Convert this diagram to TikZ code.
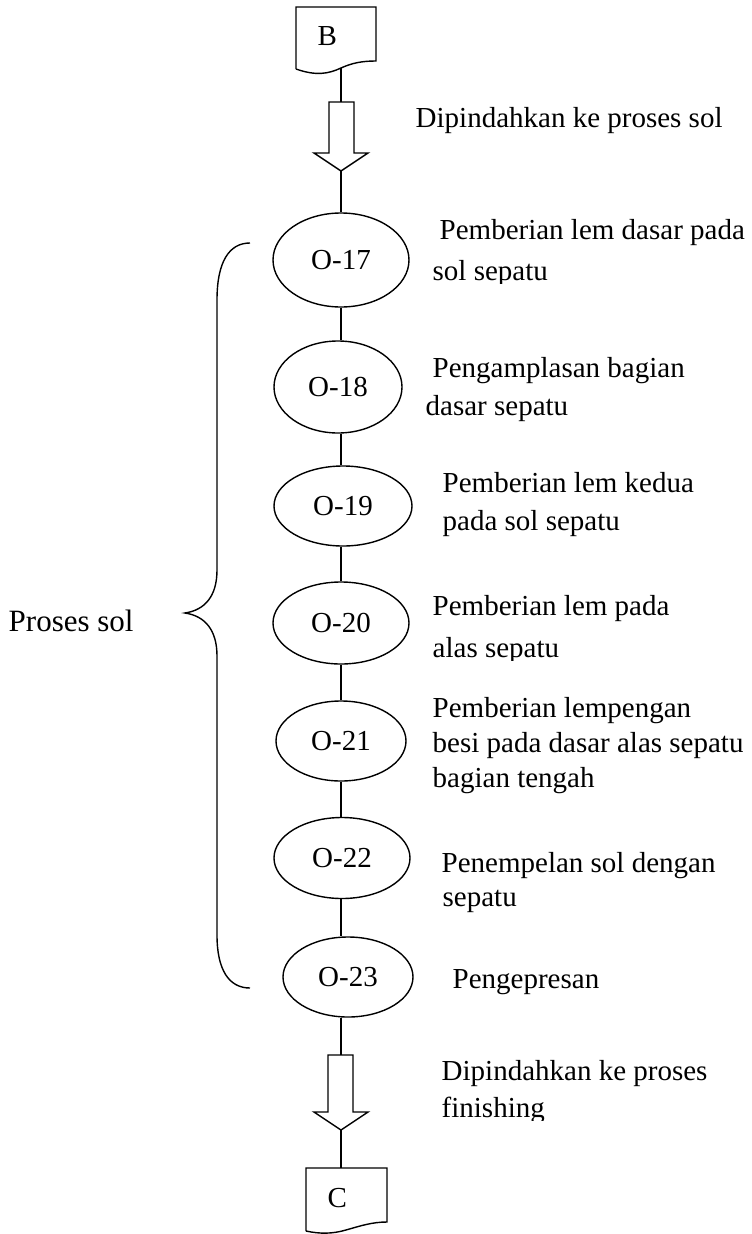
\documentclass[tikz,border=0pt]{standalone}
\usepackage{fontspec}
\setmainfont{Liberation Serif}
\usetikzlibrary{shapes.geometric}
\begin{document}
\begin{tikzpicture}[x=1pt,y=-1pt, line width=1.4pt,
  op/.style={draw, ellipse, inner sep=0pt, font=\fontsize{29}{35}\selectfont},
  lbl/.style={anchor=base west, inner sep=0pt, font=\fontsize{29}{35}\selectfont},
  doctext/.style={anchor=base west, inner sep=0pt, font=\fontsize{29}{35}\selectfont},
  blockarrow/.style={draw, line join=miter, fill=white}]
\useasboundingbox (0,0) rectangle (752,1234);

% start document B
\draw (296,69) -- (296,7) -- (376,7) -- (376,61)
  .. controls (362,61) and (352,63) .. (341,68)
  .. controls (328,74) and (316,76) .. (296,69);
\coordinate (Bout) at (341,68);
\node[doctext] (B) at (317,45) {B};

% block arrow into the sole process
\coordinate (A1top) at (341,102);
\coordinate (A1tip) at (341,171);
\draw[blockarrow] (329,102) -- (354,102) -- (354,153) -- (368,153) -- (341,171)
  -- (314,153) -- (329,153) -- cycle;
\draw (Bout) -- (A1top);

% operations
\node[op, minimum width=136pt, minimum height=94pt] (O17) at (341,260) {O-17};
\node[op, minimum width=128pt, minimum height=92pt] (O18) at (338,387) {O-18};
\node[op, minimum width=138pt, minimum height=80pt] (O19) at (343,506) {O-19};
\node[op, minimum width=136pt, minimum height=82pt] (O20) at (341,623) {O-20};
\node[op, minimum width=130pt, minimum height=80pt] (O21) at (341,741) {O-21};
\node[op, minimum width=136pt, minimum height=81pt] (O22) at (342,858) {O-22};
\node[op, minimum width=130pt, minimum height=80pt] (O23) at (348,977) {O-23};

\draw (A1tip) -- (A1tip |- O17.north);
\draw (O17.south) -- (O17.south |- O18.north);
\draw (O17.south |- O18.south) -- (O17.south |- O19.north);
\draw (O17.south |- O19.south) -- (O17.south |- O20.north);
\draw (O20.south) -- (O21.north);
\draw (O21.south) -- (O21.south |- O22.north);
\draw (O21.south |- O22.south) -- (O21.south |- O23.north);

% block arrow to finishing
\coordinate (A2top) at (341,1055);
\coordinate (A2tip) at (341,1130);
\draw (O21.south |- O23.south) -- (A2top);
\draw[blockarrow] (328,1055) -- (353,1055) -- (353,1112) -- (368,1112) -- (341,1130)
  -- (314,1112) -- (328,1112) -- cycle;

% end document C
\draw (306,1231) -- (306,1168) -- (387,1168) -- (387,1222)
  .. controls (372,1222) and (360,1226) .. (346,1230)
  .. controls (332,1234) and (320,1234) .. (306,1231);
\coordinate (Cin) at (341,1168);
\draw (A2tip) -- (Cin);
\node[doctext] (C) at (327,1207) {C};

% brace grouping the sole operations
\draw (250,243) .. controls (229,243) and (217,262) .. (217,300)
  -- (217,570) .. controls (217,596) and (205,610) .. (185,613)
  .. controls (205,616) and (217,630) .. (217,656)
  -- (217,935) .. controls (217,970) and (229,988) .. (250,988);
\node[anchor=base west, inner sep=0pt, font=\fontsize{31}{37}\selectfont] (group) at (8,631) {Proses sol};

% descriptions (some text frames cut off the descenders of their last line)
\node[lbl] (d1)   at (415,127) {Dipindahkan ke proses sol};
\node[lbl] (t17a) at (439,239) {Pemberian lem dasar pada};
\begin{scope}
  \clip (420,250) rectangle (752,283);
  \node[lbl] (t17b) at (432,280) {sol sepatu};
\end{scope}
\node[lbl] (t18a) at (432,377) {Pengamplasan bagian};
\node[lbl] (t18b) at (425,415) {dasar sepatu};
\node[lbl] (t19a) at (442,492) {Pemberian lem kedua};
\node[lbl] (t19b) at (442,530) {pada sol sepatu};
\node[lbl] (t20a) at (432,615) {Pemberian lem pada};
\begin{scope}
  \clip (420,630) rectangle (752,660);
  \node[lbl] (t20b) at (432,657) {alas sepatu};
\end{scope}
\node[lbl] (t21a) at (432,717) {Pemberian lempengan};
\node[lbl] (t21b) at (432,752) {besi pada dasar alas sepatu};
\node[lbl] (t21c) at (432,787) {bagian tengah};
\node[lbl] (t22a) at (441,872) {Penempelan sol dengan};
\node[lbl] (t22b) at (442,906) {sepatu};
\node[lbl] (t23)  at (452,988) {Pengepresan};
\node[lbl] (d2a)  at (441,1080) {Dipindahkan ke proses};
\begin{scope}
  \clip (420,1090) rectangle (752,1120);
  \node[lbl] (d2b)  at (441,1117) {finishing};
\end{scope}
\end{tikzpicture}
\end{document}
